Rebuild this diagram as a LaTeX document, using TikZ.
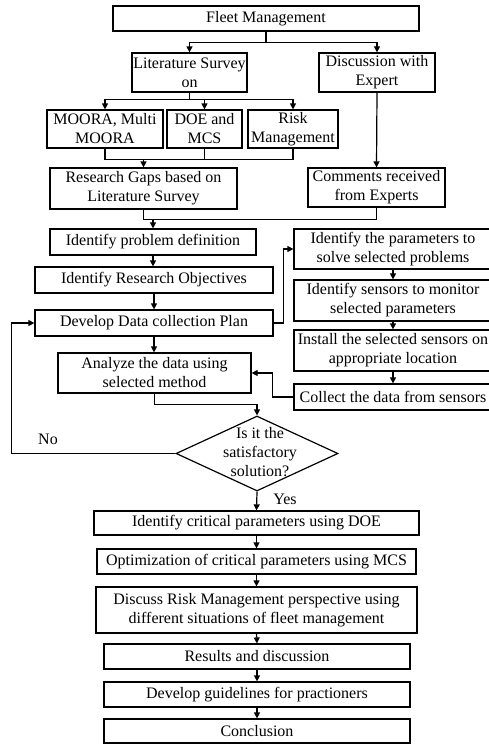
\documentclass[tikz,border=0pt]{standalone}
\usepackage{fontspec}
\setmainfont{Liberation Serif}
\usetikzlibrary{arrows.meta,positioning,shapes.geometric,calc}

\begin{document}
\begin{tikzpicture}[x=1pt, y=-1pt,
  box/.style={draw, line width=1.2pt, inner sep=0pt, align=center, font=\fontsize{16}{19}\selectfont},
  arrow/.style={-{Triangle[length=6pt,width=6pt]}, line width=1.2pt},
  link/.style={line width=1.2pt},
  lbl/.style={font=\fontsize{16}{19}\selectfont}
]
\useasboundingbox (0,0) rectangle (488,744);
\node[box, minimum width=306, minimum height=25] (fleet) at (266,18.5) {Fleet Management};
\node[box, minimum width=115, minimum height=39] (lit) at (189.5,72.5) {Literature Survey\\on};
\node[box, minimum width=116, minimum height=39] (disc) at (377,72.5) {Discussion with\\Expert};
\node[box, minimum width=116, minimum height=38] (moora) at (105,129) {MOORA, Multi\\MOORA};
\node[box, minimum width=75, minimum height=38] (doe) at (204.5,129) {DOE and\\MCS};
\node[box, minimum width=90, minimum height=38] (risk) at (293,129) {Risk\\Management};
\node[box, minimum width=187, minimum height=41] (gaps) at (143.5,188.5) {Research Gaps based on\\Literature Survey};
\node[box, minimum width=137, minimum height=39] (comm) at (376.5,187.5) {Comments received\\from Experts};
\node[box, minimum width=206, minimum height=26] (prob) at (153,242) {Identify problem definition};
\node[box, minimum width=238, minimum height=26] (obj) at (154,280) {Identify Research Objectives};
\node[box, minimum width=238, minimum height=26] (plan) at (154,323) {Develop Data collection Plan};
\node[box, minimum width=193, minimum height=40] (anal) at (154.5,373) {Analyze the data using\\selected method};
\node[draw, diamond, line width=1.2pt, inner sep=0pt, minimum width=162, minimum height=75] (dec) at (257,453.5) {};
\node[lbl, align=center] (dectxt) at (260,452) {Is it the\\satisfactory\\solution?};

\node[box, minimum width=198, minimum height=40] (par) at (393,249) {Identify the parameters to\\solve selected problems};
\node[box, minimum width=198, minimum height=41] (sens) at (393,300.5) {Identify sensors to monitor\\selected parameters};
\node[box, minimum width=198, minimum height=41] (inst) at (393,350.5) {Install the selected sensors on\\appropriate location};
\node[box, minimum width=198, minimum height=26] (coll) at (393,397) {Collect the data from sensors};

\node[box, minimum width=325, minimum height=24] (crit) at (256.5,523) {Identify critical parameters using DOE};
\node[box, minimum width=319, minimum height=25] (optim) at (256.5,561.5) {Optimization of critical parameters using MCS};
\node[box, minimum width=321, minimum height=46] (riskp) at (256.5,610) {Discuss Risk Management perspective using\\different situations of fleet management};
\node[box, minimum width=306, minimum height=25] (res) at (257,656.5) {Results and discussion};
\node[box, minimum width=306, minimum height=25] (guide) at (257,694.5) {Develop guidelines for practioners};
\node[box, minimum width=306, minimum height=24] (concl) at (257,731) {Conclusion};

\node[lbl] (no) at (48,439) {No};
\node[lbl] (yes) at (285,499) {Yes};

\coordinate (m1) at (143.5,159);
\coordinate (m2) at (153,219);

\draw[arrow] (fleet.south) -- ++(0,11) -| (lit.north);
\draw[arrow] (fleet.south) -- ++(0,11) -| (disc.north);
\draw[arrow] (lit.south) -- ++(0,7) -| (moora.north);
\draw[arrow] (lit.south) -- ++(0,7) -| (doe.north);
\draw[arrow] (lit.south) -- ++(0,7) -| (risk.north);
\draw[link] (moora.south) -- ++(0,11) -| (risk.south);
\draw[link] (doe.south) -- ++(0,11);
\draw[arrow] (m1) -- (gaps.north);
\draw[arrow] (disc.south) -- (comm.north);
\draw[link] (gaps.south) -- ++(0,10) -| (comm.south);
\draw[arrow] (m2) -- (prob.north);
\draw[arrow] (prob.south) -- (prob.south |- obj.north);
\draw[arrow] (obj.south) -- (plan.north);
\draw[arrow] (plan.south) -- (plan.south |- anal.north);
\draw[arrow] (plan.east) -- ++(10,0) |- (par.west);
\draw[arrow] (par.south) -- (sens.north);
\draw[arrow] (sens.south) -- (inst.north);
\draw[arrow] (inst.south) -- (coll.north);
\draw[arrow] (coll.west) -- ++(-21,0) |- (anal.east);
\draw[arrow] (anal.south) -- ++(0,11) -| (dec.north);
\draw[arrow] (dec.west) -- ++(-164,0) |- (plan.west);
\draw[arrow] (dec.south) -- (crit.north);
\draw[arrow] (crit.south) -- (optim.north);
\draw[arrow] (optim.south) -- (riskp.north);
\draw[arrow] (riskp.south) -- (res.north);
\draw[arrow] (res.south) -- (guide.north);
\draw[arrow] (guide.south) -- (concl.north);
\end{tikzpicture}
\end{document}
